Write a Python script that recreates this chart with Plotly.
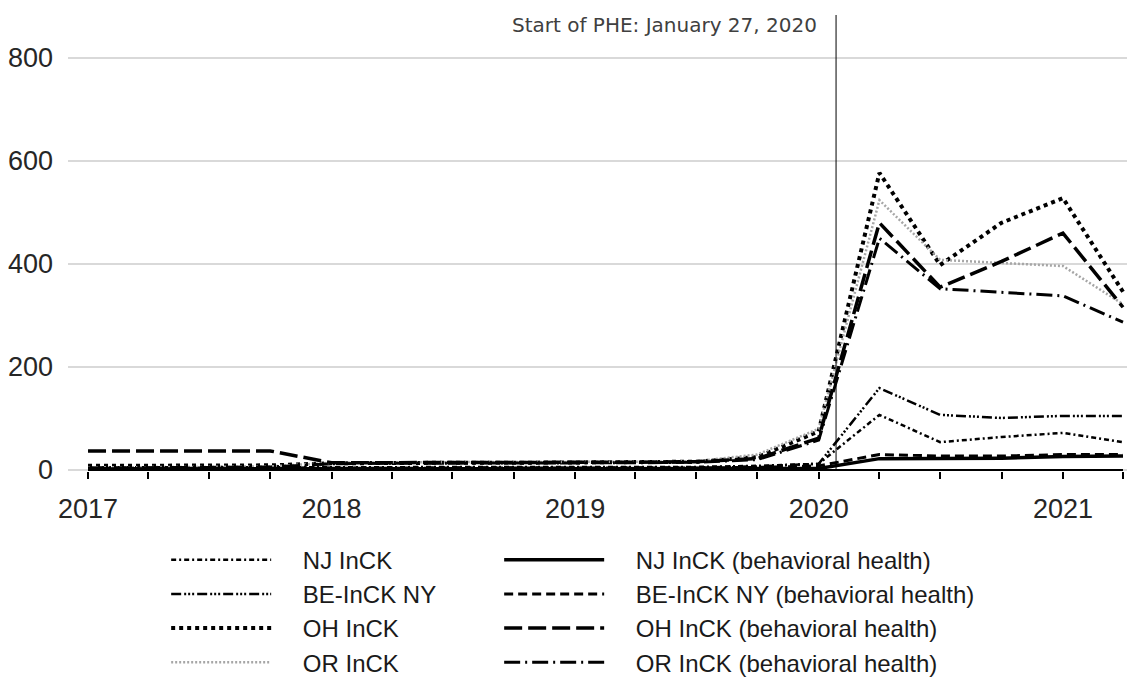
import plotly.graph_objects as go

quarters = ["2017-01-01", "2017-04-01", "2017-07-01", "2017-10-01",
            "2018-01-01", "2018-04-01", "2018-07-01", "2018-10-01",
            "2019-01-01", "2019-04-01", "2019-07-01", "2019-10-01",
            "2020-01-01", "2020-04-01", "2020-07-01", "2020-10-01",
            "2021-01-01", "2021-04-01"]

nj_inck     = [5, 5, 5, 5, 5, 5, 5, 5, 5, 5, 6, 8, 12, 107, 54, 64, 72, 54]
nj_bh       = [2, 2, 2, 2, 2, 2, 2, 2, 2, 2, 2, 2, 3, 22, 22, 23, 26, 27]
be_ny       = [4, 4, 4, 4, 4, 4, 4, 4, 4, 5, 5, 7, 12, 159, 107, 101, 105, 105]
be_ny_bh    = [3, 3, 3, 3, 3, 3, 3, 3, 3, 3, 4, 5, 8, 30, 27, 27, 30, 30]
oh_inck     = [8, 8, 8, 9, 13, 14, 14, 14, 15, 15, 16, 25, 75, 577, 398, 480, 528, 346]
oh_bh       = [37, 37, 37, 37, 14, 14, 14, 15, 15, 15, 16, 22, 62, 480, 355, 405, 460, 316]
or_inck     = [5, 5, 6, 7, 14, 15, 15, 16, 16, 16, 17, 30, 80, 524, 408, 402, 396, 322]
or_bh       = [4, 4, 5, 6, 12, 13, 13, 13, 14, 14, 15, 20, 58, 450, 352, 345, 338, 287]

phe_date = "2020-01-27"
phe_label = "Start of PHE: January 27, 2020"

# (name, values, colour, width, dash, legend column)
series = [
    ("NJ InCK", nj_inck, "#000000", 2.5, "5px,3px,2px,3px", "legend"),
    ("BE-InCK NY", be_ny, "#000000", 2.5, "10px,3px,2px,2px,2px,2px,2px,3px", "legend"),
    ("OH InCK", oh_inck, "#000000", 4, "4px,4px", "legend"),
    ("OR InCK", or_inck, "#a6a6a6", 2.5, "2px,2px", "legend"),
    ("NJ InCK (behavioral health)", nj_bh, "#000000", 3.5, "solid", "legend2"),
    ("BE-InCK NY (behavioral health)", be_ny_bh, "#000000", 3, "9px,5px", "legend2"),
    ("OH InCK (behavioral health)", oh_bh, "#000000", 3.5, "18px,6px", "legend2"),
    ("OR InCK (behavioral health)", or_bh, "#000000", 3, "16px,5px,2px,5px", "legend2"),
]

pad = "\u00a0" * 4

fig = go.Figure()
for name, vals, color, width, dash, leg in series:
    fig.add_trace(go.Scatter(
        x=quarters, y=vals, name=pad + name, mode="lines",
        line=dict(color=color, width=width, dash=dash), legend=leg,
    ))

# x-axis baseline spanning the data period
fig.add_shape(type="line", xref="x", yref="y",
              x0=quarters[0], x1=quarters[-1], y0=0, y1=0,
              line=dict(color="#000000", width=2))
# PHE start vertical line
fig.add_shape(type="line", xref="x", yref="paper",
              x0=phe_date, x1=phe_date, y0=0, y1=1,
              line=dict(color="#000000", width=1))
fig.add_annotation(x=phe_date, xref="x", y=1, yref="paper",
                   text=phe_label, showarrow=False,
                   xanchor="right", yanchor="top", xshift=-17, yshift=4,
                   font=dict(family="DejaVu Sans", size=20, color="#404040"))

tick_font = dict(family="Liberation Sans, Arial", size=27, color="#262626")
legend_font = dict(family="Liberation Sans, Arial", size=24, color="#1a1a1a")

fig.update_layout(
    width=1135, height=677,
    margin=dict(l=60, r=8, t=7, b=214, autoexpand=False),
    plot_bgcolor="white", paper_bgcolor="white",
    showlegend=True,
    legend=dict(
        orientation="v", x=0.092, y=-0.146, xanchor="left", yanchor="top",
        itemwidth=100, font=legend_font, traceorder="normal",
        bgcolor="rgba(0,0,0,0)",
    ),
    legend2=dict(
        orientation="v", x=0.092 + 333 / 1067, y=-0.146, xanchor="left", yanchor="top",
        itemwidth=100, font=legend_font, traceorder="normal",
        bgcolor="rgba(0,0,0,0)",
    ),
    xaxis=dict(
        type="date", automargin=False,
        range=["2016-12-02", "2021-04-19"],
        showgrid=False, zeroline=False, showline=False,
        dtick="M12", tick0="2017-01-01", tickformat="%Y",
        ticks="outside", ticklen=7, tickwidth=2, tickcolor="#000000",
        minor=dict(dtick="M3", ticks="outside", ticklen=7, tickwidth=2,
                   tickcolor="#000000", showgrid=False),
        tickfont=tick_font, ticklabelstandoff=7,
    ),
    yaxis=dict(
        automargin=False,
        range=[-2, 883.5],
        tickvals=[0, 200, 400, 600, 800],
        showgrid=True, gridcolor="#d9d9d9", gridwidth=2,
        zeroline=False, showline=False, ticks="",
        tickfont=tick_font, ticklabelstandoff=14,
    ),
)

fig.write_html("out.html")
